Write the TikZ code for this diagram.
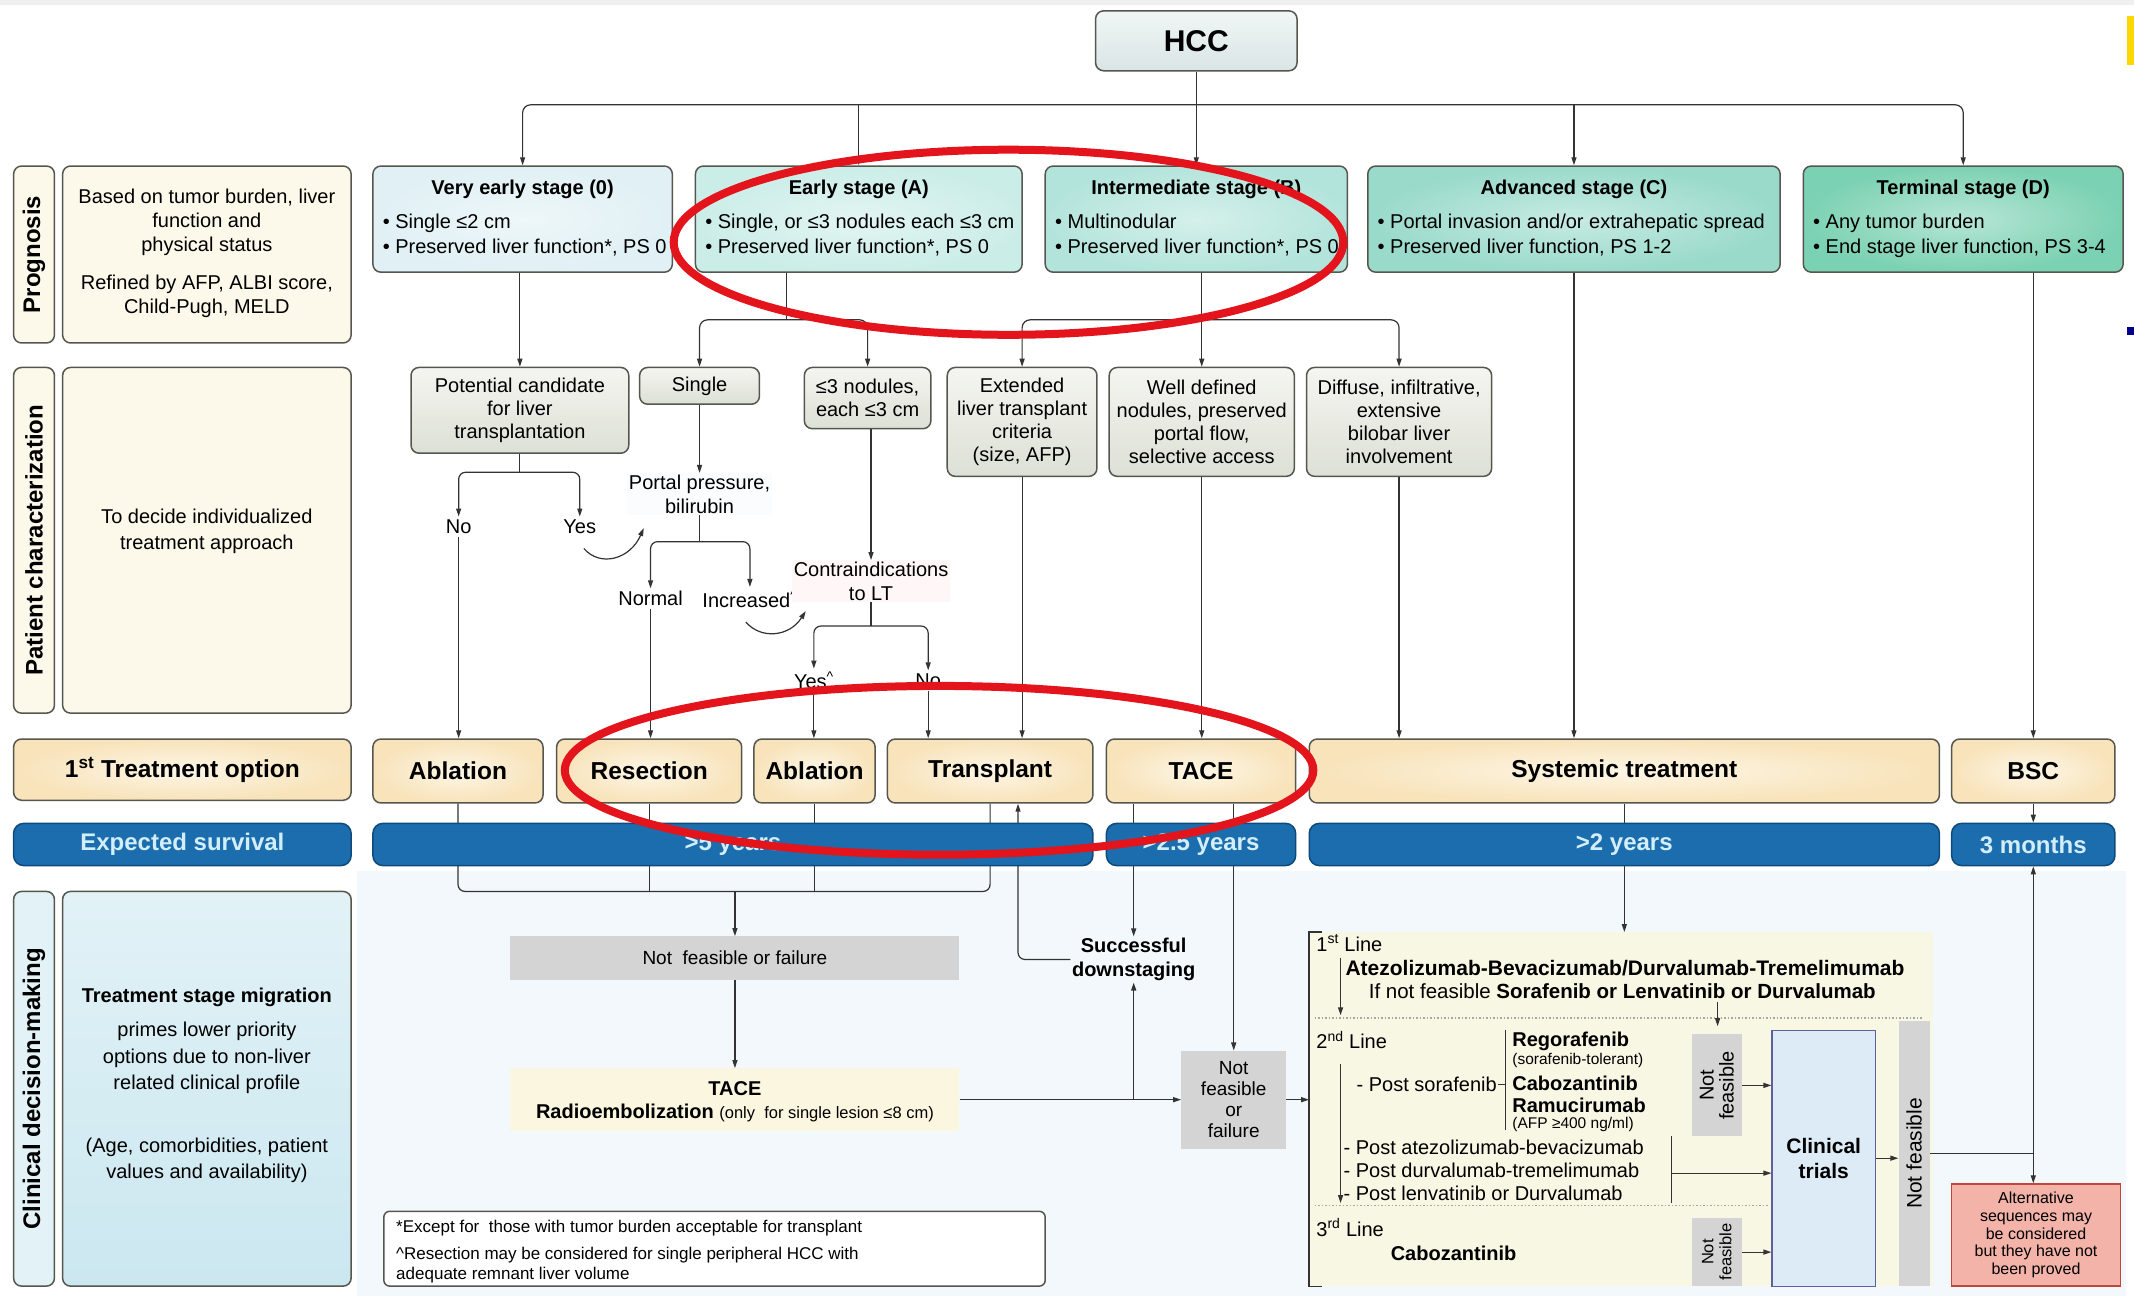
\documentclass[tikz,border=0pt]{standalone}
\usepackage{fontspec}
\setmainfont{Liberation Sans}
\usetikzlibrary{arrows.meta,fit}
\newcommand\fsz[2]{\fontsize{#1pt}{#2pt}\selectfont}
% a framed box spanning two corners, with its text centred in a separate node
\newcommand\tbox[5]{%
  \node[#1, fit={#2}] (#3) {};
  \node[#4] (#3t) at (#3.center) {#5};}
\definecolor{linec}{HTML}{333333}
\definecolor{edge}{HTML}{55574F}
\definecolor{stZ}{HTML}{E0F0F4}
\definecolor{stA}{HTML}{CBEDE8}
\definecolor{stB}{HTML}{B3E4DB}
\definecolor{stC}{HTML}{99DACB}
\definecolor{stD}{HTML}{7BD1B3}
\definecolor{charTop}{HTML}{F4F5F0}
\definecolor{charBot}{HTML}{DDE0D6}
\definecolor{treatIn}{HTML}{FDF6E6}
\definecolor{treatOut}{HTML}{F8E3BA}
\definecolor{survblue}{HTML}{1C6DAD}
\definecolor{survedge}{HTML}{0E4A7C}
\definecolor{survtext}{HTML}{D2EEFA}
\definecolor{sidebeige}{HTML}{FDF9EA}
\definecolor{sideblueA}{HTML}{E2F2F7}
\definecolor{sideblueB}{HTML}{CBE7F0}
\definecolor{failgray}{HTML}{D4D4D4}
\definecolor{panelbg}{HTML}{F8F7E4}
\definecolor{trialblue}{HTML}{DCEBF5}
\definecolor{altred}{HTML}{F3B3A8}
\definecolor{altedge}{HTML}{C0473B}
\definecolor{lowbg}{HTML}{F2F8FB}
\definecolor{markred}{HTML}{E3141B}
\definecolor{hccTop}{HTML}{F1F6F6}
\definecolor{hccBot}{HTML}{D9E5E5}
\definecolor{yellowfill}{HTML}{FBF6DF}
\begin{document}
\begin{tikzpicture}[x=1.361pt,y=-1.361pt,
  box/.style={draw=edge, line width=1.5pt, rounded corners=8pt, inner sep=0pt},
  stagebox/.style={box, inner color=white!45!#1, outer color=#1},
  charbox/.style={box, top color=charTop, bottom color=charBot},
  treatbox/.style={box, inner color=treatIn, outer color=treatOut},
  survbar/.style={box, draw=survedge, fill=survblue, rounded corners=10pt},
  sidebox/.style={box, fill=#1},
  failbox/.style={fill=failgray, inner sep=0pt},
  txt/.style={inner sep=1.5pt, align=center, font=\fsz{20}{24}},
  btxt/.style={inner sep=1.5pt, align=center, font=\fsz{20}{24}\bfseries},
  ctxt/.style={inner sep=0pt, align=center, font=\fsz{20}{23}},
  ttxt/.style={inner sep=0pt, font=\fsz{24.5}{28}\bfseries},
  stxt/.style={inner sep=0pt, font=\fsz{24}{28}\bfseries, text=survtext},
  lbl/.style={inner sep=3pt, font=\fsz{20}{24}},
  vlabel/.style={rotate=90, font=\fsz{24}{28}\bfseries, inner sep=0pt},
  vnote/.style={rotate=90, align=center, font=\fsz{20}{20}, inner sep=0pt},
  conn/.style={draw=linec, line width=1.2pt},
  arr/.style={conn, -{Triangle[length=8pt,width=5pt]}},
  dotline/.style={draw=gray!70, line width=1.3pt, dash pattern=on 1.3pt off 2.2pt},
  redmark/.style={draw=markred, line width=8pt}
]
\fill[white] (0,0) rectangle (1568,952);
\useasboundingbox (0,0) rectangle (1568,952);
\fill[gray!12] (0,0) rectangle (1568,4);
\fill[lowbg] (262,640) rectangle (1562,952);
\fill[yellow!75!orange] (1563,12) rectangle (1568,48);
\fill[blue!55!black] (1563,240) rectangle (1568,246);

% ---------- left column ----------
\node[sidebox=sidebeige, fit={(10,122)(40,252)}] (lp1) {};
\node[vlabel] (lp1t) at (lp1.center) {Prognosis};
\node[sidebox=sidebeige, fit={(46,122)(258,252)}] (lt1) {};
\node[txt] (lt1a) at (152,163) {Based on tumor burden, liver\\function and\\physical status};
\node[txt] (lt1b) at (152,217.5) {Refined by AFP, ALBI score,\\Child-Pugh, MELD};

\node[sidebox=sidebeige, fit={(10,270)(40,524)}] (lp2) {};
\node[vlabel] (lp2t) at (lp2.center) {Patient characterization};
\node[sidebox=sidebeige, fit={(46,270)(258,524)}] (lt2) {};
\node[txt, font=\fsz{20}{26}] (lt2a) at (152,390.5) {To decide individualized\\treatment approach};

\tbox{treatbox}{(10,543)(258,588)}{tr0}{ttxt}{1\textsuperscript{st} Treatment option}
\tbox{survbar}{(10,605)(258,636)}{sv0}{stxt}{Expected survival}

\node[sidebox=sideblueA, fit={(10,655)(40,945)}] (lp3) {};
\node[vlabel] (lp3t) at (lp3.center) {Clinical decision-making};
\node[box, top color=sideblueA, bottom color=sideblueB, fit={(46,655)(258,945)}] (lt3) {};
\node[btxt] (lt3a) at (152,733) {Treatment stage migration};
\node[txt, font=\fsz{20}{26.5}] (lt3b) at (152,777.5) {primes lower priority\\options due to non-liver\\related clinical profile};
\node[txt, font=\fsz{20}{26.5}] (lt3c) at (152,852.5) {(Age, comorbidities, patient\\values and availability)};

% ---------- HCC and stages ----------
\tbox{box, top color=hccTop, bottom color=hccBot}{(805,8)(953,52)}{hcc}{inner sep=0pt, font=\fsz{30}{34}\bfseries}{HCC}

\node[stagebox=stZ, fit={(274,122)(494,200)}] (s0) {};
\node[btxt] (s0t) at (s0.center |- 0,139) {Very early stage (0)};
\node[txt, align=left, anchor=west, font=\fsz{20}{25}] (s0b) at (280,173) {• Single ≤2 cm\\• Preserved liver function*, PS 0};

\node[stagebox=stA, fit={(511,122)(751,200)}] (sA) {};
\node[btxt] (sAt) at (sA.center |- 0,139) {Early stage (A)};
\node[txt, align=left, anchor=west, font=\fsz{20}{25}] (sAb) at (517,173) {• Single, or ≤3 nodules each ≤3 cm\\• Preserved liver function*, PS 0};

\node[stagebox=stB, fit={(768,122)(990,200)}] (sB) {};
\node[btxt] (sBt) at (sB.center |- 0,139) {Intermediate stage (B)};
\node[txt, align=left, anchor=west, font=\fsz{20}{25}] (sBb) at (774,173) {• Multinodular\\• Preserved liver function*, PS 0};

\node[stagebox=stC, fit={(1005,122)(1308,200)}] (sC) {};
\node[btxt] (sCt) at (sC.center |- 0,139) {Advanced stage (C)};
\node[txt, align=left, anchor=west, font=\fsz{20}{25}] (sCb) at (1011,173) {• Portal invasion and/or extrahepatic spread\\• Preserved liver function, PS 1-2};

\node[stagebox=stD, fit={(1325,122)(1560,200)}] (sD) {};
\node[btxt] (sDt) at (sD.center |- 0,139) {Terminal stage (D)};
\node[txt, align=left, anchor=west, font=\fsz{20}{25}] (sDb) at (1331,173) {• Any tumor burden\\• End stage liver function, PS 3-4};

% ---------- patient characterization ----------
\tbox{charbox}{(302,270)(462,333)}{pc}{ctxt}{Potential candidate\\for liver\\transplantation}
\tbox{charbox}{(470,270)(558,297)}{sg}{ctxt}{Single}
\tbox{charbox}{(591,270)(684,315)}{n3}{ctxt}{≤3 nodules,\\each ≤3 cm}
\tbox{charbox}{(696,270)(806,350)}{ex}{ctxt}{Extended\\liver transplant\\criteria\\(size, AFP)}
\tbox{charbox}{(815,270)(951,350)}{wd}{ctxt}{Well defined\\nodules, preserved\\portal flow,\\selective access}
\tbox{charbox}{(960,270)(1096,350)}{df}{ctxt}{Diffuse, infiltrative,\\extensive\\bilobar liver\\involvement}

\node[lbl] (no1) at (337,387) {No};
\node[lbl] (yes1) at (426,387) {Yes};
\node[txt, fill=white!60!lowbg] (pp) at (514,363) {Portal pressure,\\bilirubin};
\node[lbl] (nrm) at (478,440) {Normal};
\node[lbl] (inc) at (551,440) {Increased\textsuperscript{\textasciicircum}};
\node[txt, fill=red!3] (ci) at (640,427) {Contraindications\\to LT};
\node[lbl] (yes2) at (598,500) {Yes\textsuperscript{\textasciicircum}};
\node[lbl] (no2) at (682,500) {No};

% ---------- treatment options ----------
\tbox{treatbox}{(274,543)(399,590)}{ab1}{ttxt}{Ablation}
\tbox{treatbox}{(409,543)(545,590)}{rs}{ttxt}{Resection}
\tbox{treatbox}{(554,543)(643,590)}{ab2}{ttxt}{Ablation}
\tbox{treatbox}{(652,543)(803,590)}{tp}{ttxt}{Transplant}
\tbox{treatbox}{(813,543)(952,590)}{tc}{ttxt}{TACE}
\tbox{treatbox}{(962,543)(1425,590)}{sy}{ttxt}{Systemic treatment}
\tbox{treatbox}{(1434,543)(1554,590)}{bsc}{ttxt}{BSC}

% ---------- clinical decision area ----------
\tbox{failbox}{(375,688)(705,720)}{nf1}{inner sep=0pt, font=\fsz{19}{23}}{Not\ \ feasible or failure}
\node[fill=yellowfill, inner sep=0pt, fit={(375,785)(705,831)}] (rb) {};
\node[btxt] (rbt) at (540,800) {TACE};
\node[btxt] (rbr) at (540,818) {Radioembolization {\mdseries\fsz{16.5}{18}(only\ \ for single lesion ≤8 cm)}};
\node[btxt, fill=lowbg] (sd) at (833,705) {Successful\\downstaging};
\tbox{failbox}{(868,772)(945,844)}{nf2}{inner sep=0pt, align=center, font=\fsz{19}{21}}{Not\\feasible\\or\\failure}

\node[fill=panelbg, inner sep=0pt, fit={(962,685)(1420,945)}] (pn) {};
\node[txt, anchor=west] (l1) at (966,693) {1\textsuperscript{st} Line};
\node[btxt, font=\fsz{21}{24}\bfseries] (l1a) at (1194,711) {Atezolizumab-Bevacizumab/Durvalumab-Tremelimumab};
\node[txt, font=\fsz{20.5}{24}] (l1b) at (1192,728) {If not feasible \textbf{Sorafenib or Lenvatinib or Durvalumab}};
\node[txt, anchor=west] (l2) at (966,764) {2\textsuperscript{nd} Line};
\node[txt, anchor=east] (ps) at (1101,797) {- Post sorafenib};
\node[btxt, anchor=west] (rg) at (1110,765) {Regorafenib};
\node[txt, anchor=west, font=\fsz{15.5}{17}] (rgn) at (1110,779) {(sorafenib-tolerant)};
\node[btxt, anchor=west] (cb) at (1110,796) {Cabozantinib};
\node[btxt, anchor=west] (rm) at (1110,812) {Ramucirumab};
\node[txt, anchor=west, font=\fsz{15.5}{17}] (rmn) at (1110,826) {(AFP ≥400 ng/ml)};
\node[txt, anchor=west, align=left, font=\fsz{20}{23}] (pl) at (986,860) {- Post atezolizumab-bevacizumab\\- Post durvalumab-tremelimumab\\- Post lenvatinib or Durvalumab};
\node[txt, anchor=west] (l3) at (966,902) {3\textsuperscript{rd} Line};
\node[btxt] (l3a) at (1068,921) {Cabozantinib};

\node[failbox, fit={(1243,760)(1280,835)}] (nfa) {};
\node[vnote] (nfat) at (nfa.center) {Not\\feasible};
\node[failbox, fit={(1243,895)(1280,945)}] (nfb) {};
\node[vnote, font=\fsz{16.5}{18}] (nfbt) at (nfb.center) {Not\\feasible};
\tbox{draw=gray!75!blue, line width=1.2pt, fill=trialblue, inner sep=0pt}{(1302,757)(1378,945)}{ct}{inner sep=0pt, align=center, font=\fsz{21}{25}\bfseries}{Clinical\\trials}
\node[failbox, fit={(1395,750)(1418,945)}] (nft) {};
\node[vnote, font=\fsz{21}{21}] (nftt) at (nft.center) {Not feasible};
\tbox{draw=altedge, line width=1.5pt, fill=altred, inner sep=0pt}{(1434,870)(1558,945)}{alt}{inner sep=0pt, align=center, font=\fsz{16}{17.7}}{Alternative\\sequences may\\be considered\\but they have not\\been proved}

\node[box, fill=white, rounded corners=6pt, fit={(282,890)(768,945)}] (fn) {};
\node[anchor=west, inner sep=0pt, font=\fsz{17}{20}] (fn1) at (291,902) {*Except for\ \ those with tumor burden acceptable for transplant};
\node[anchor=west, inner sep=0pt, align=left, font=\fsz{17}{20.5}] (fn2) at (291,929.5) {\textasciicircum Resection may be considered for single peripheral HCC with\\adequate remnant liver volume};

% ---------- connectors: stages ----------
\coordinate (bus) at (879,77);
\draw[arr] (hcc.south) -- (hcc.south |- sB.north);
\draw[arr, rounded corners=8pt] (bus) -| (s0.north);
\draw[arr, rounded corners=8pt] (bus) -| (sD.north);
\draw[arr] (sA.north |- bus) -- (sA.north);
\draw[arr] (sC.north |- bus) -- (sC.north);

% ---------- connectors: characterization ----------
\draw[arr] (s0.south -| pc.north) -- (pc.north);
\coordinate (aj) at (578,235);
\draw[conn] (sA.south -| aj) -- (aj);
\draw[arr, rounded corners=8pt] (aj) -| (sg.north);
\draw[arr, rounded corners=8pt] (aj) -| (n3.north);
\coordinate (bj) at (883,235);
\draw[conn] (sB.south -| bj) -- (bj);
\draw[arr, rounded corners=8pt] (bj) -| (ex.north);
\draw[arr, rounded corners=8pt] (bj) -| (df.north);
\draw[arr] (bj) -- (wd.north);

\coordinate (pj) at (382,347);
\draw[conn] (pc.south) -- (pj);
\draw[arr, rounded corners=7pt] (pj) -| (no1.north);
\draw[arr, rounded corners=7pt] (pj) -| (yes1.north);
\draw[arr] (no1.south) -- (no1.south |- ab1.north);
\coordinate (yc0) at (429,403);
\coordinate (yc1) at (473,388);
\draw[arr] (yc0) .. controls (441,417) and (463,411) .. (yc1);

\draw[arr] (sg.south) -- (sg.south |- pp.north);
\coordinate (ppj) at (514,398);
\draw[conn] (pp.south) -- (ppj);
\draw[arr, rounded corners=7pt] (ppj) -| (nrm.north);
\draw[arr, rounded corners=7pt] (ppj) -| (inc.north);
\draw[arr] (nrm.south) -- (nrm.south |- rs.north);
\coordinate (ic0) at (548,457);
\coordinate (ic1) at (592,449);
\draw[arr] (ic0) .. controls (559,470) and (580,468) .. (ic1);

\draw[arr] (n3.south -| ci.north) -- (ci.north);
\coordinate (cij) at (640,460);
\draw[conn] (ci.south) -- (cij);
\draw[arr, rounded corners=7pt] (cij) -| (yes2.north);
\draw[arr, rounded corners=7pt] (cij) -| (no2.north);
\draw[arr] (yes2.south) -- (yes2.south |- ab2.north);
\draw[arr] (no2.south) -- (no2.south |- tp.north);
\draw[arr] (ex.south) -- (ex.south |- tp.north);
\draw[arr] (wd.south) -- (wd.south |- tc.north);
\draw[arr] (df.south) -- (df.south |- sy.north);
\draw[arr] (sC.south) -- (sC.south |- sy.north);
\draw[arr] (sD.south -| bsc.north) -- (bsc.north);

% ---------- connectors running behind the survival bars ----------
\coordinate (jn) at (540,655);
\draw[conn, rounded corners=7pt] (ab1.south) |- (jn);
\draw[conn, rounded corners=7pt] (tp.south) |- (jn);
\draw[conn] (rs.south) -- (rs.south |- jn);
\draw[conn] (ab2.south) -- (ab2.south |- jn);
\draw[arr] (jn) -- (jn |- nf1.north);
\draw[arr] (tc.south -| sd.north) -- (sd.north);
\draw[arr] (tc.south -| nf2.north) -- (nf2.north);
\coordinate (dsx) at (748,705);
\draw[arr, rounded corners=7pt] (sd.west) -- (dsx) -- (dsx |- tp.south);
\draw[conn] (sy.south) -- (sy.south |- 0,605);

% ---------- survival bars ----------
\tbox{survbar}{(274,605)(803,636)}{sv1}{stxt}{>5 years}
\tbox{survbar}{(813,605)(952,636)}{sv2}{stxt}{>2.5 years}
\tbox{survbar}{(962,605)(1425,636)}{sv3}{stxt}{>2 years}
\tbox{survbar}{(1434,605)(1554,636)}{sv4}{stxt}{3 months}
\draw[arr] (bsc.south) -- (sv4.north);

% ---------- connectors: decision making ----------
\draw[arr] (nf1.south) -- (rb.north);
\draw[arr] (rb.east) -- (rb.east -| nf2.west);
\coordinate (sdj) at (833,808);
\draw[arr] (sdj) -- (sd.south);
\draw[arr] (nf2.east) -- (nf2.east -| pn.west);
\draw[arr] (sv3.south) -- (sv3.south |- pn.north);
\draw[conn, line width=1.4pt] ([xshift=13pt]pn.north west) -- (pn.north west) -- (pn.south west) -- ([xshift=13pt]pn.south west);

\draw[dotline] (966,748) -- (1412,748);
\draw[dotline] (966,886) -- (1300,886);
\coordinate (p1a) at (985,704); \coordinate (p1b) at (985,746);
\draw[arr] (p1a) -- (p1b);
\coordinate (p2a) at (985,782); \coordinate (p2b) at (985,884);
\draw[arr] (p2a) -- (p2b);
\coordinate (p3a) at (1262,736); \coordinate (p3b) at (1262,754);
\draw[arr] (p3a) -- (p3b);
\coordinate (sb1) at (1106,757); \coordinate (sb2) at (1106,830);
\draw[conn] (sb1) -- (sb2);
\draw[conn] (ps.east) -- (ps.east -| sb1);
\coordinate (pb1) at (1228,835); \coordinate (pb2) at (1228,884); \coordinate (pb3) at (1228,862);
\draw[conn] (pb1) -- (pb2);
\draw[arr] (pb3) -- (pb3 -| ct.west);
\draw[arr] (nfa.east) -- (nfa.east -| ct.west);
\draw[arr] (nfb.east) -- (nfb.east -| ct.west);
\draw[arr] (ct.east) -- (ct.east -| nft.west);
\draw[conn] (nft.east) -- (nft.east -| sv4.south) coordinate (rj);
\draw[arr] (rj) -- (sv4.south);
\draw[arr] (rj) -- (rj |- alt.north);

% ---------- highlight ellipses ----------
\draw[redmark] (741,178) ellipse [x radius=246, y radius=68];
\draw[redmark] (690,566) ellipse [x radius=275, y radius=62];
\end{tikzpicture}
\end{document}
